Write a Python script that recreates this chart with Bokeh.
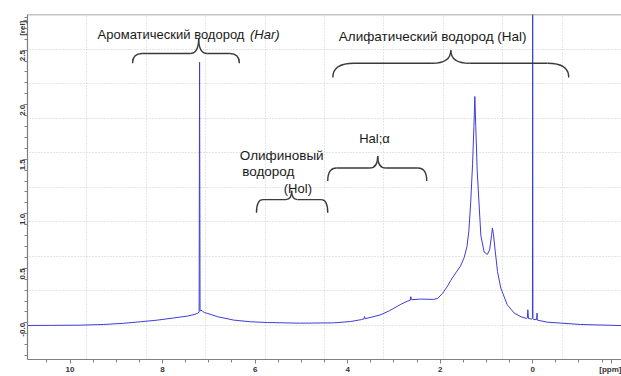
import math
from bokeh.plotting import figure
from bokeh.models import (Range1d, FixedTicker, Grid, Span, ColumnDataSource)
from bokeh.core.properties import value
from bokeh.embed import file_html
from bokeh.resources import INLINE

# ---------------- data ----------------
ppm = [10.92, 10.40, 9.77, 9.28, 8.84, 8.48, 8.11, 7.76, 7.46, 7.30, 7.23,
       7.21, 7.20, 7.19, 7.17, 7.14, 7.12, 7.10, 7.03, 6.81, 6.46, 6.10, 5.73,
       5.02, 4.30, 3.94, 3.70, 3.645, 3.635, 3.62, 3.30, 3.10, 2.85, 2.70,
       2.645, 2.635, 2.62, 2.42, 2.14, 2.05, 1.95, 1.85, 1.77, 1.66, 1.56,
       1.48, 1.42, 1.38, 1.34, 1.30, 1.27, 1.25, 1.23, 1.20, 1.16, 1.12,
       1.05, 0.98, 0.93, 0.89, 0.87, 0.85, 0.81, 0.76, 0.69, 0.55, 0.40,
       0.25, 0.13, 0.115, 0.105, 0.09, 0.02, 0.005, 0.0, -0.005, -0.02,
       -0.08, -0.085, -0.095, -0.10, -0.32, -1.04, -1.92]
intensity = [-0.024, -0.023, -0.021, -0.015, -0.004, 0.010, 0.025, 0.045,
             0.062, 0.078, 0.090, 0.10, 2.39, 0.11, 0.115, 0.11, 0.10, 0.095,
             0.087, 0.056, 0.025, 0.010, 0.003, -0.003, 0.000, 0.012, 0.030,
             0.036, 0.058, 0.038, 0.072, 0.110, 0.170, 0.200, 0.208, 0.240,
             0.212, 0.218, 0.215, 0.225, 0.270, 0.330, 0.390, 0.460, 0.520,
             0.600, 0.700, 0.840, 1.100, 1.450, 1.800, 2.075, 1.800, 1.400,
             1.100, 0.800, 0.650, 0.627, 0.670, 0.800, 0.870, 0.820, 0.660,
             0.470, 0.320, 0.166, 0.090, 0.055, 0.040, 0.045, 0.120, 0.040,
             0.035, 0.040, 3.600, 0.040, 0.030, 0.030, 0.030, 0.090, 0.025,
             0.006, -0.015, -0.025]

# curly braces: left end, right end, cusp, end height, bar height, tip height
brace_left = [8.65, 4.32, 4.43, 5.97]
brace_right = [6.34, -0.78, 2.29, 4.43]
brace_center = [7.22, 1.77, 3.35, 5.21]
brace_end_y = [2.38, 2.25, 1.30, 1.01]
brace_bar_y = [2.47, 2.38, 1.42, 1.13]
brace_tip_y = [2.61, 2.50, 1.53, 1.21]

# annotation texts
label_text = ["Ароматический водород", "Алифатический водород (Hal)", "Hal;α",
              "Олифиновый", "водород", "(Hol)"]
label_x = [9.405, 4.19, 3.75, 6.33, 6.28, 5.38]
label_y = [2.64, 2.625, 1.69, 1.53, 1.39, 1.232]
label_size = ["13px", "13.5px", "13px", "13.5px", "13.5px", "13px"]
italic_text = ["(Har)"]
italic_x = [6.11]
italic_y = [2.64]

# axis ticks and labels
x_major = [10, 8, 6, 4, 2, 0]
x_major_labels = ["10", "8", "6", "4", "2", "0"]
x_unit_pos, x_unit_label = -1.71, "[ppm]"
y_major = [0, 0.5, 1.0, 1.5, 2.0, 2.5]
y_major_labels = ["-0.0", "0.5", "1.0", "1.5", "2.0", "2.5"]
y_unit_pos, y_unit_label = 2.77, "[rel]"

# ---------------- figure ----------------
X_START, X_END = 10.92, -1.92
Y_START, Y_END = -0.336, 2.827

p = figure(width=621, height=376,
           x_range=Range1d(X_START, X_END), y_range=Range1d(Y_START, Y_END),
           output_backend="svg", toolbar_location=None,
           min_border_left=27, min_border_right=0, min_border_top=14,
           min_border_bottom=14)
p.outline_line_color = None
p.background_fill_color = "white"
p.border_fill_color = "white"
p.xgrid.visible = False
p.ygrid.visible = False

gx = [X_START + (X_END - X_START) * k / 10 for k in range(1, 10)]
gy = [Y_END + (Y_START - Y_END) * k / 10 for k in range(1, 10)]
p.add_layout(Grid(dimension=0, ticker=FixedTicker(ticks=gx),
                  grid_line_color="#cccccc", grid_line_dash="1 2", grid_line_width=1))
p.add_layout(Grid(dimension=1, ticker=FixedTicker(ticks=gy),
                  grid_line_color="#cccccc", grid_line_dash="1 2", grid_line_width=1))
p.add_layout(Span(location=Y_END, dimension="width", line_color="#8a8a8a", line_width=1.5))

x_minor = [v / 2 for v in range(-3, 22)]
p.xaxis.ticker = FixedTicker(ticks=x_major + [x_unit_pos], minor_ticks=x_minor)
xov = {v: s for v, s in zip(x_major, x_major_labels)}
xov[x_unit_pos] = x_unit_label
p.xaxis.major_label_overrides = xov

y_minor = [v / 10 for v in range(-3, 29)]
p.yaxis.ticker = FixedTicker(ticks=y_major + [y_unit_pos], minor_ticks=y_minor)
yov = {v: s for v, s in zip(y_major, y_major_labels)}
yov[y_unit_pos] = y_unit_label
p.yaxis.major_label_overrides = yov
p.yaxis.major_label_orientation = math.pi / 2

for ax in (p.xaxis, p.yaxis):
    ax.axis_line_color = "#7f7f7f"
    ax.axis_line_width = 1.2
    ax.major_tick_line_color = "#7f7f7f"
    ax.minor_tick_line_color = "#7f7f7f"
    ax.major_tick_out = 4
    ax.major_tick_in = 0
    ax.minor_tick_out = 3
    ax.minor_tick_in = 0
    ax.major_label_text_font = "Liberation Sans"
    ax.major_label_text_font_size = "8px"
    ax.major_label_text_font_style = "bold"
    ax.major_label_text_color = "#333333"
    ax.major_label_standoff = 1

# spectrum
p.line(ppm, intensity, line_color="#3d3dd6", line_width=1)

# braces
qx0, qy0, qx1, qy1, qcx, qcy = [], [], [], [], [], []
sx0, sy0, sx1, sy1 = [], [], [], []
for L, R, C, ye, yb, yt in zip(brace_left, brace_right, brace_center,
                               brace_end_y, brace_bar_y, brace_tip_y):
    w = L - R
    e = 0.09 * w
    c = 0.08 * w
    qx0 += [L, C + c, C - c, R]
    qy0 += [ye, yb, yb, ye]
    qx1 += [L - e, C, C, R + e]
    qy1 += [yb, yt, yt, yb]
    qcx += [L, C, C, R]
    qcy += [yb, yb, yb, yb]
    sx0 += [L - e, C - c]
    sy0 += [yb, yb]
    sx1 += [C + c, R + e]
    sy1 += [yb, yb]
p.quadratic(x0=qx0, y0=qy0, x1=qx1, y1=qy1, cx=qcx, cy=qcy,
            line_color="#3a3a3a", line_width=1.4)
p.segment(x0=sx0, y0=sy0, x1=sx1, y1=sy1, line_color="#3a3a3a", line_width=1.4)

# texts
src = ColumnDataSource(dict(x=label_x, y=label_y, t=label_text, s=label_size))
p.text(x="x", y="y", text="t", source=src, text_font=value("Liberation Sans"),
       text_font_size="s", text_color="#1a1a1a", text_align="left",
       text_baseline="alphabetic")
src2 = ColumnDataSource(dict(x=italic_x, y=italic_y, t=italic_text))
p.text(x="x", y="y", text="t", source=src2, text_font=value("Liberation Sans"),
       text_font_size="13px", text_font_style="italic", text_color="#1a1a1a",
       text_align="left", text_baseline="alphabetic")

open("out.html", "w").write(file_html(p, INLINE))
